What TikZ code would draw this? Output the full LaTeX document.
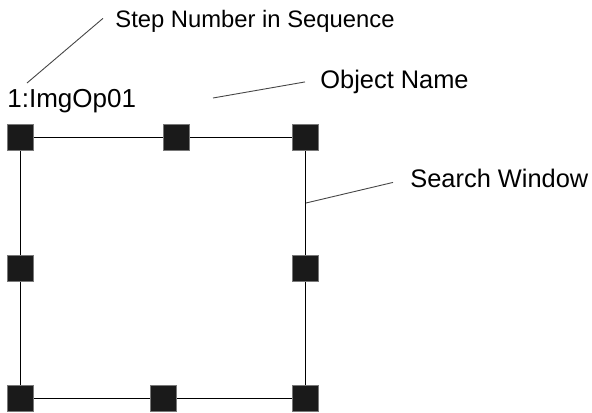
\documentclass[tikz,border=0pt]{standalone}
\usepackage{fontspec}
\setmainfont{Liberation Sans}
\usepackage{xcolor}
\usepackage{tikz}
\usetikzlibrary{positioning}
\definecolor{handlefill}{RGB}{26,26,26}
\definecolor{handleedge}{RGB}{120,120,120}
\definecolor{leadergray}{RGB}{70,70,70}

\begin{document}
\begin{tikzpicture}[
  x=0.5pt, y=-0.5pt,
  handle/.style={rectangle, fill=handlefill, draw=handleedge, line width=0.3pt, minimum size=13pt, inner sep=0pt},
  caption/.style={anchor=base west, inner sep=0pt, font=\fontsize{12.7}{15}\selectfont},
  leader/.style={draw=leadergray, line width=0.45pt}
]
\useasboundingbox (0,0) rectangle (592,412);

% search window frame
\draw[line width=0.5pt] (20,137.5) rectangle (305,398.5);

% handles
\node[handle] (tl) at (20,137.5) {};
\node[handle] (tm) at (176,137.5) {};
\node[handle] (tr) at (305,137.5) {};
\node[handle] (ml) at (20,268.5) {};
\node[handle] (mr) at (305,268.5) {};
\node[handle] (bl) at (20,398.5) {};
\node[handle] (bm) at (163,398.5) {};
\node[handle] (br) at (305,398.5) {};

% labels
\node[caption, font=\fontsize{13}{15}\selectfont] (objname) at (7,107) {1:ImgOp01};
\node[caption, font=\fontsize{11.9}{14}\selectfont] (steplbl) at (115,27) {Step Number in Sequence};
\node[caption] (namelbl) at (320,88) {Object Name};
\node[caption] (winlbl) at (410,187) {Search Window};

% leader lines
\coordinate (stepend) at (27,83);
\coordinate (nameend) at (213,98);
\coordinate (winend) at (306,203);
\draw[leader] ([xshift=-6pt,yshift=1.25pt]steplbl.west) -- (stepend);
\draw[leader] ([xshift=-7.5pt,yshift=-0.25pt]namelbl.west) -- (nameend);
\draw[leader] ([xshift=-8.5pt,yshift=-2.25pt]winlbl.west) -- (winend);
\end{tikzpicture}
\end{document}
